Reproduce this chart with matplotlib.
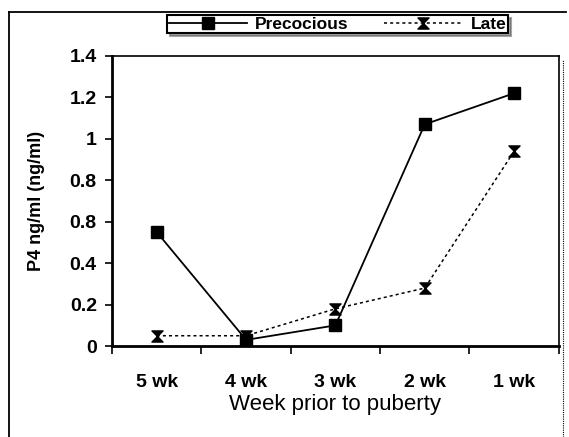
import numpy as np
import matplotlib.pyplot as plt
from matplotlib.path import Path
from matplotlib.lines import Line2D

weeks = ["5 wk", "4 wk", "3 wk", "2 wk", "1 wk"]
precocious = [0.55, 0.03, 0.10, 1.07, 1.22]
late = [0.05, 0.05, 0.18, 0.28, 0.94]
yticks = [0, 0.2, 0.4, 0.6, 0.8, 1, 1.2, 1.4]
ytick_labels = ["0", "0.2", "0.4", "0.8", "0.8", "1", "1.2", "1.4"]

plt.rcParams['font.family'] = ['Liberation Sans', 'DejaVu Sans']

# hourglass marker like the old Excel one
hourglass = Path([(-1, 1), (1, 1), (-1, -1), (1, -1), (-1, 1)],
                 [Path.MOVETO, Path.LINETO, Path.LINETO, Path.LINETO, Path.CLOSEPOLY])

fig = plt.figure(figsize=(5.69, 4.37), dpi=100)
ax = fig.add_axes([0.197, 0.208, 0.785, 0.664])

x = np.arange(len(weeks))
ax.plot(x, precocious, color="black", lw=1.3, marker="s", ms=8, label="Precocious")
ax.plot(x, late, color="black", lw=1.1, ls=(0, (2, 2)), marker=hourglass, ms=8,
        label="Late")

ax.set_xlim(-0.5, len(weeks) - 0.5)
ax.set_ylim(0, 1.4)
ax.set_xticks(np.arange(-0.5, len(weeks), 1))
ax.set_xticklabels([])
ax.set_xticks(x, minor=True)
ax.set_xticklabels(weeks, minor=True, fontsize=14, fontweight="bold")
ax.tick_params(axis="x", which="minor", length=0, pad=20)
ax.tick_params(axis="x", which="major", length=6, width=1.2, direction="out")
ax.set_yticks(yticks)
ax.set_yticklabels(ytick_labels, fontsize=14, fontweight="bold")
ax.tick_params(axis="y", length=5, width=1.2, direction="out", pad=6)

for s in ax.spines.values():
    s.set_linewidth(1.2)
ax.spines["left"].set_linewidth(2)
ax.spines["bottom"].set_linewidth(2)

ax.set_xlabel("Week prior to puberty", fontsize=16, labelpad=2)
ax.set_ylabel("P4 ng/ml (ng/ml)", fontsize=13, fontweight="bold", labelpad=18)

leg = fig.legend(loc="center", bbox_to_anchor=(0.593, 0.945), ncol=2, fontsize=12.5,
                 frameon=True, shadow=True, fancybox=False, handlelength=4.5,
                 borderpad=0.1, columnspacing=2.0, handletextpad=0.5)
leg.get_frame().set_edgecolor("black")
leg.get_frame().set_linewidth(1.5)
for t in leg.get_texts():
    t.set_fontweight("bold")

# outer frame of the scanned figure
fig.add_artist(Line2D([9 / 569, 9 / 569], [0, 1 - 12 / 437], color="black", lw=1.3))
fig.add_artist(Line2D([9 / 569, 566 / 569], [1 - 12 / 437, 1 - 12 / 437], color="black", lw=1.3))
fig.add_artist(Line2D([563 / 569, 563 / 569], [0, 1 - 60 / 437], color="black", lw=0.8,
                      ls=(0, (1, 1))))

fig.savefig("out.png", dpi=100)
